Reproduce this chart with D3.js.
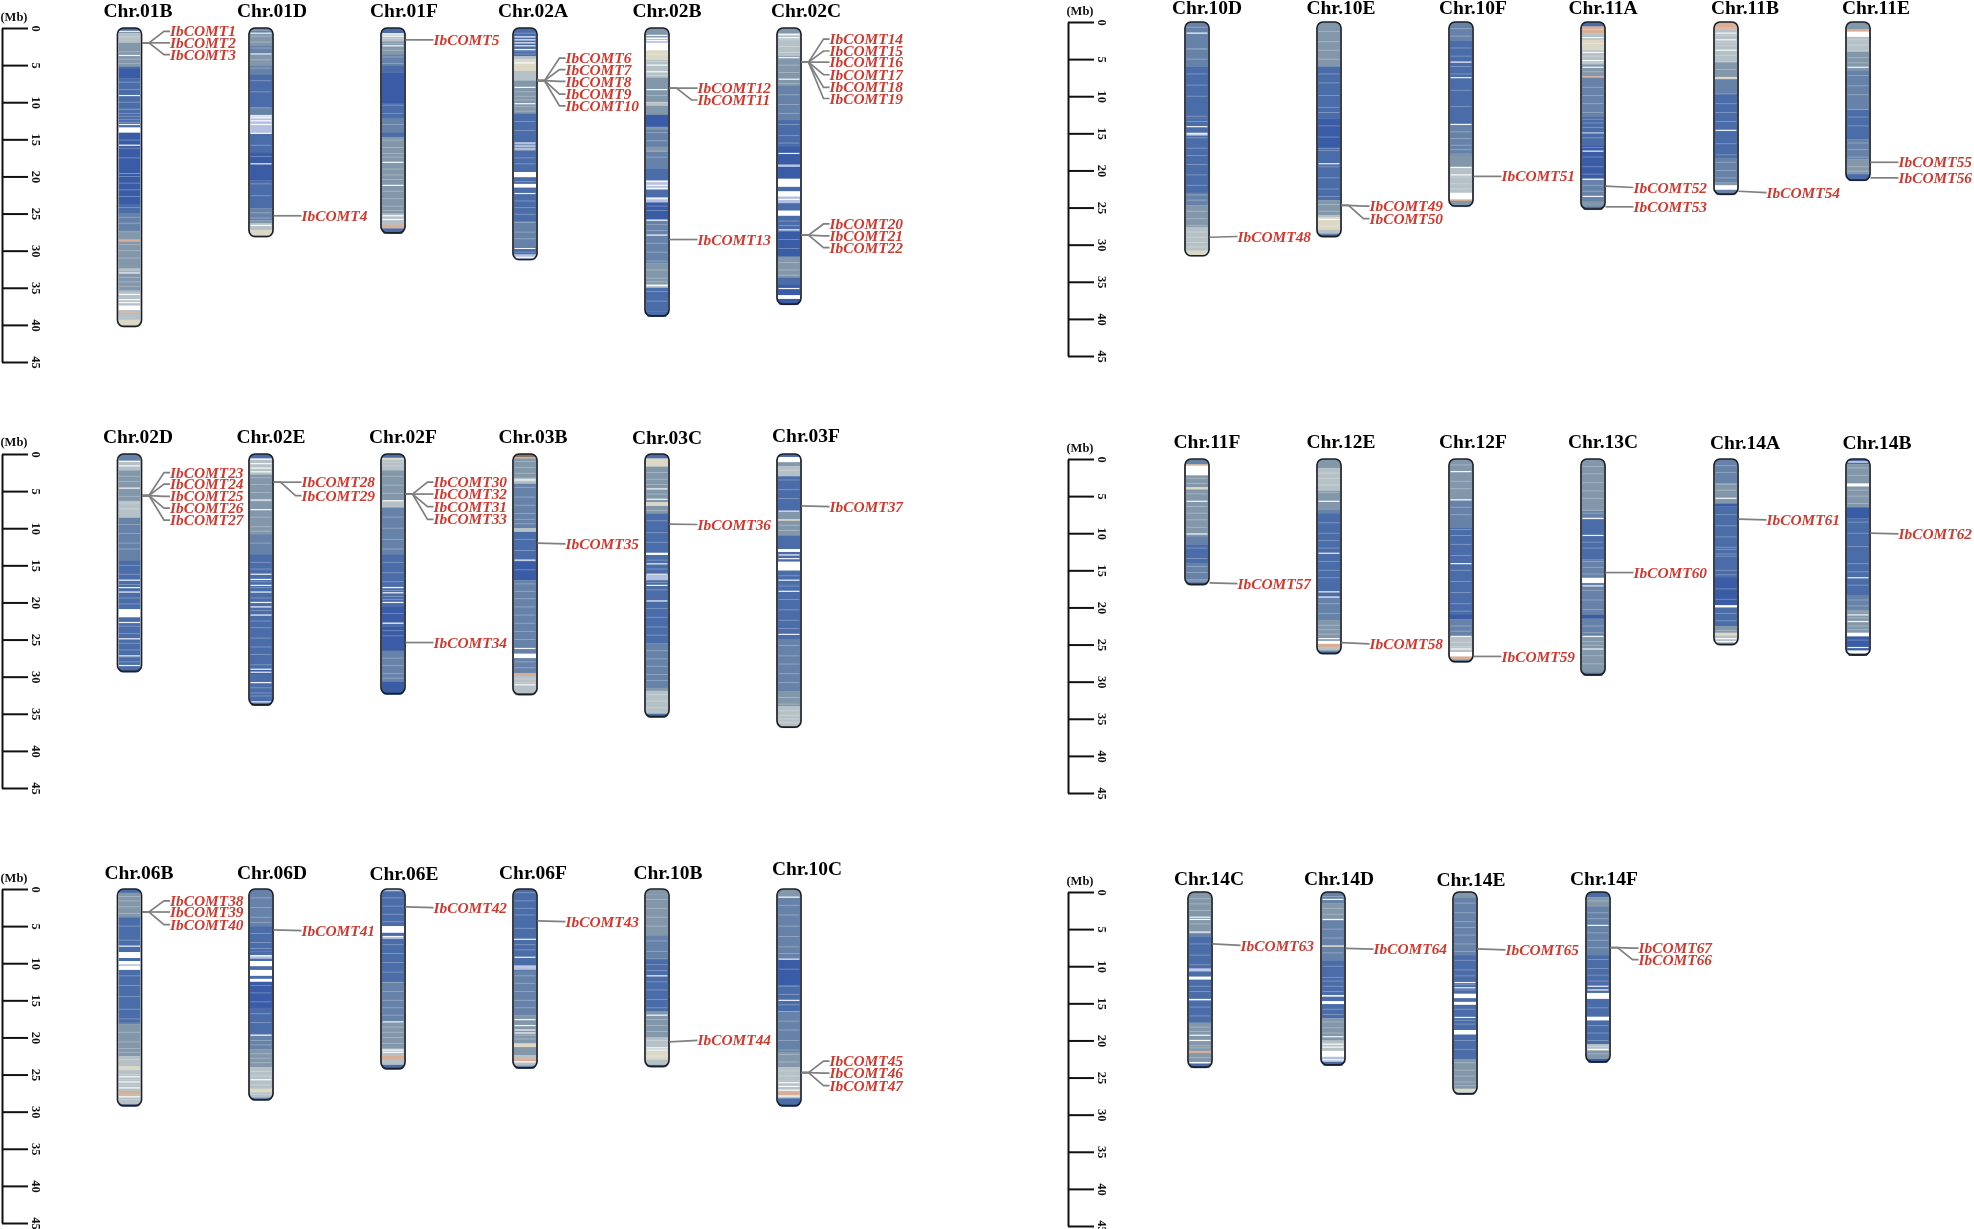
<!DOCTYPE html>
<html><head><meta charset="utf-8">
<script src="https://cdn.jsdelivr.net/npm/d3@7/dist/d3.min.js"></script>
<style>html,body{margin:0;padding:0;background:#fff;overflow:hidden}svg{display:block;filter:blur(.45px)}
text{font-family:"Liberation Serif",serif;font-weight:bold}</style></head><body>
<script>
// ---------- tick labels and level colours ----------
const tickValues=[0,5,10,15,20,25,30,35,40,45];
const levelColours=["#ffffff","#b4c0e2","#3a5ca6","#4a6ca8","#6682a8","#8297aa","#b5c1c6","#dcd8c6","#d9ae96","#8d6f5e"];

// ---------- chromosomes by panel ----------
const chrsA=["01B","01D","01F","02A","02B","02C"];
const lensA=[40.3,28.2,27.7,31.3,38.9,37.3];
const chrsB=["02D","02E","02F","03B","03C","03F"];
const lensB=[29.4,33.9,32.4,32.5,35.5,36.9];
const chrsC=["06B","06D","06E","06F","10B","10C"];
const lensC=[29.3,28.5,24.3,24.2,24,29.3];
const chrsD=["10D","10E","10F","11A","11B","11E"];
const lensD=[31.6,29,24.9,25.3,23.3,21.4];
const chrsE=["11F","12E","12F","13C","14A","14B"];
const lensE=[17,26.3,27.4,29.2,25.1,26.5];
const chrsF=["14C","14D","14E","14F"];
const lensF=[23.7,23.4,27.3,23];

// ---------- genes: name, chromosome, locus (Mb), label level (Mb) ----------
const geneNames=[1,2,3,4,5,6,7,8,9,10,12,11,13,14,15,16,17,18,19,20,21,22,23,24,25,26,27,28,29,30,32,31,33,34,35,36,37,38,39,40,41,42,43,44,45,46,47,48,49,50,51,52,53,54,55,56,57,58,59,60,61,62,63,64,65,67,66];
const geneChrs=["01B","01B","01B","01D","01F","02A","02A","02A","02A","02A","02B","02B","02B","02C","02C","02C","02C","02C","02C","02C","02C","02C","02D","02D","02D","02D","02D","02E","02E","02F","02F","02F","02F","02F","03B","03C","03F","06B","06B","06B","06D","06E","06F","10B","10C","10C","10C","10D","10E","10E","10F","11A","11A","11B","11E","11E","11F","12E","12F","13C","14A","14B","14C","14D","14E","14F","14F"];
const geneLoci=[2,2,2,25.3,1.6,7.1,7.1,7.1,7.1,7.1,8.1,8.1,28.5,4.6,4.6,4.6,4.6,4.6,4.6,27.9,27.9,27.9,5.6,5.6,5.6,5.6,5.6,3.8,3.8,5.4,5.4,5.4,5.4,25.4,12,9.45,7,3.1,3.1,3.1,5.5,2.4,4.3,20.6,24.75,24.75,24.75,29,24.7,24.7,20.8,22.1,24.9,22.8,18.9,21,16.7,24.75,26.6,15.3,8.1,10,7,7.6,7.65,7.5,7.5];
const geneLabelAt=[.45,2,3.6,25.3,1.6,4.05,5.6,7.2,8.9,10.5,8.1,9.7,28.5,1.5,3.1,4.6,6.3,8,9.5,26.4,28,29.6,2.5,4.05,5.7,7.3,8.9,3.8,5.6,3.8,5.4,7.1,8.8,25.4,12.1,9.5,7.1,1.6,3.1,4.8,5.6,2.5,4.4,20.4,23.2,24.8,26.5,28.9,24.8,26.5,20.8,22.3,24.9,23,18.9,21,16.8,24.9,26.6,15.3,8.2,10.1,7.2,7.7,7.8,7.55,9.1];

// ---------- density tracks: flat pairs (start Mb, level); gaps and faint lines in Mb ----------
const bands01B=[0,3,.5,5,.7,6,2,5,3.6,5,5.2,3,5.5,2,6.8,3,9,3,10.8,3,13.4,0,14.1,2,15.7,2,19.6,2,23.7,3,25,4,27.5,5,28.5,8,28.8,5,32.4,6,32.8,5,35.5,6,36.8,6,37.4,0,38,6,38.3,8,38.5,6,39.3,7];
const gaps01B=[.45,3.7,9.1,13,33,35.9,36.6,37,15.8];
const soft01B=[1.2,3.2,4.2,4.8,7.3,8.3,10,11,11.5,11.9,12.3,12.7,15.1,16.2,17.5,19.6,20,20.9,21.8,22.7,24.2,25.5,26.3,27.4,29.2,30,31,33.6,34.2,34.8,35.4];
const bands01D=[0,4,.8,5,2.4,4,3.6,5,5.1,4,6.3,3,10.8,4,11.7,1,14.2,3,16.8,2,20.5,3,24.3,4,25.9,5,26.3,6,27.2,7,27.9,6];
const gaps01D=[.7,3.5,11.85,12.1,12.5,13,14.2,18.3,26.6];
const soft01D=[.3,1.1,1.9,2.7,4.3,5.4,7.1,8.6,10.7,15.8,17.3,21,22.6,24.9,25.6];
const bands01F=[0,3,.7,6,1.8,5,3.6,4,5.1,3,6,2,10.1,3,12.2,4,14.1,3,14.7,5,17.9,5,21.2,5,25,6,26,6,26.5,8,27,3];
const gaps01F=[.8,1.1,2.4,18.1,21.2,25.3,25.8];
const soft01F=[1.4,2.1,3,3.9,4.8,10.4,11.5,13,15.1,16.1,16.9,17.4,19,19.8,20.4,22,23,24,24.6];
const bands02A=[0,3,1.1,3,3.8,6,4.2,7,5.8,6,7.1,5,11.5,3,19.4,0,20.1,3,21,0,21.5,3,23,3,26,4,29.5,3,30.5,1];
const gaps02A=[1.2,1.6,2,2.4,2.9,4.7,8,10.2,15.5,15.9,16.3,22.3,29.7,30.9];
const soft02A=[.7,3.1,3.5,8.6,9.2,9.7,10.6,11.2,12.6,13.8,15.7,16.1,16.5,17.5,18.3,20.7,23.3,24.2,25.1,26.2,27.5,28.4,30.2];
const bands02B=[0,5,1.2,1,2,0,3,7,4.3,6,6.7,5,8.2,5,10,6,10.5,5,11.7,2,13.3,5,13.7,4,16,5,16.6,4,18.9,3,20.5,1,21.8,3,22.8,1,23.5,2,25.8,4,28,4,31.7,5,34.5,6,35,3,38.2,3];
const gaps02B=[1,1.4,1.7,5,5.9,8.3,20.7,21.2,21.6,23,25.9,27.9,34.7];
const soft02B=[3.5,4.5,6.4,9.1,10,14.1,15.2,16.6,17.4,24,24.6,26.5,27.3,29,30.2,31.4,32.6,33.7,34.2,35.5,36.8];
const bands02C=[0,5,.7,6,2,6,3.8,5,7.8,4,12.4,3,16,2,18.4,1,18.7,2,20.3,0,21.4,3,22,0,22.7,1,23.6,3,24.6,0,25.3,3,27.4,2,30.8,5,33.6,3,34.6,2,36,0,36.5,2];
const gaps02C=[.9,1.3,4,6.9,16.9,23.1,27.2,35.1];
const soft02C=[1.6,2.5,3.3,5,6,7.5,9,10.3,11.5,13,14.5,15.5,18.6,26,26.6,28.5,29.7,31.6,32.6,33.3];
const bands02D=[0,4,.9,6,2.2,5,4.7,5,6.3,6,8.6,4,14.4,3,16.8,3,20.9,0,22,3,27.4,3];
const gaps02D=[1,1.6,4.6,17,18,18.6,22.7,24.9,27.2,28.5];
const soft02D=[3,3.7,5.7,6.6,7.4,9.5,10.7,12,12.8,15,16.2,17.6,19.4,20.2,23.2,24.2,25.5,26.4,28];
const bands02E=[0,3,.6,6,2.8,5,6.4,5,10.8,4,13.5,3,29,2,29.6,3];
const gaps02E=[.7,1.3,1.9,2.4,6.2,7.5,16.2,16.9,17.7,18.6,20,20.6,21.7,29,29.4,30.8,33.4];
const soft02E=[3.2,4.1,5.2,8.5,9.8,10.4,12,14.6,15.5,17.2,18,19.4,21.1,22.5,23.4,24.8,26,27,28.4,31.5,32.2,32.6];
const bands02F=[0,3,.5,7,.8,6,2.2,5,6.3,6,7.2,4,13.5,3,17.8,3,20.5,2,22.6,3,23.2,2,26.5,4,30.7,2];
const gaps02F=[6.3,18,18.7,20,22.8];
const soft02F=[1.1,1.6,3,4.2,5.3,8.5,10,11.5,12.8,14.6,16,17.2,18.4,19.2,19.6,21.5,23.8,24.5,27.5,28.5,29.6,30.2];
const bands03B=[0,9,.4,8,.6,5,3.2,6,4,4,10,6,10.5,3,14.5,2,17,4,26.9,0,27.5,4,29.5,8,29.9,6,32.2,5];
const gaps03B=[3.5,14.3,26.2,31.1];
const soft03B=[1,1.8,2.6,4.5,5.8,6.9,8,8.8,9.4,11.5,13,15.6,17.5,18.5,19.5,20.6,21.7,22.8,23.9,25,28,28.8,30.3,30.8];
const bands03C=[0,3,.6,7,1.7,5,6.5,7,7,5,8,3,13.3,0,13.6,3,16.3,1,17,3,25.5,4,31.5,5,31.9,6,35,3];
const gaps03C=[4.7,6.1,14.8,16.2,17.7,19.8];
const soft03C=[2.5,3.4,4.1,5.4,7.6,9,10.6,11.9,14.3,15.5,17.3,18.3,20.8,22,23.3,24.4,26.5,27.6,28.6,29.7,30.5,32.4,33.3,34.2];
const bands03F=[0,3,.4,0,1.1,5,1.6,6,3,3,7.8,5,8.8,7,9,5,11,3,12.8,0,13.2,3,14.5,0,15.7,3,17.6,3,24.3,3,25,4,32,5,34,6];
const gaps03F=[7.7,13.6,14.1,17,18.5,24.3];
const soft03F=[2.2,3.5,4.8,6,9.6,10.3,16.4,17.8,19.6,21,22.4,23.5,25.8,27.2,28.3,29.6,30.8,32.8,33.7,34.6,35.2,35.7,36.2];
const bands06B=[0,3,.5,5,3.7,4,3.9,3,7,3,8.5,0,9.3,3,9.7,0,10.2,3,10.3,0,10.9,3,18,4,18.2,5,22.5,6,23.9,7,24.4,6,27.2,8,27.7,6,29,4];
const gaps06B=[7.7,25.3,26,26.8,28];
const soft06B=[1,1.6,2.4,3.3,5,6.9,11.7,13,14.5,16.2,17.5,19.3,20.6,21.5,22,23,25,25.7,26.4,28.4];
const bands06D=[0,4,5,3,8.4,3,8.9,1,9.4,3,9.7,0,10.4,3,10.9,0,11.7,3,12.1,0,12.5,2,16,3,19.5,4,21.6,5,24,6,26.9,7,27.4,6,28.1,4];
const gaps06D=[9,19.7,25.7];
const soft06D=[1.2,2.5,3.8,4.5,6,7.2,8,13,14,15.2,16.8,18,20.4,21,22.2,22.8,23.4,24.6,25.2,26.4,27.7];
const bands06E=[0,1,.3,3,5,0,5.9,3,11,3,12.5,4,18,5,21.5,6,22.4,8,23,6,23.7,3];
const gaps06E=[6.4,6.6,17.9,21.7,22];
const soft06E=[1.2,2.3,3.4,4.4,7.5,8.7,9.9,11.2,12.6,13.8,15,16,17,18.6,19.3,20,20.8];
const bands06F=[0,3,6.7,0,6.85,3,9,3,10.3,1,10.9,3,11,4,17,5,20.8,7,21.3,5,22.4,6,22.8,8,23.2,6,23.8,4];
const gaps06F=[9.2,17.6,18.4,19,19.4,23.3];
const soft06F=[.5,1.6,2.6,3.5,5.3,7.5,8.2,10.5,11.7,12.7,13.8,15,16,19.7,20.2];
const bands10B=[0,5,.7,5,6.3,4,9.4,3,16.5,5,20,6,21.8,7,23,6,23.7,4];
const gaps10B=[11.7,17,21.4,21.7];
const soft10B=[1.4,2.6,3.8,5,7,8.4,9.4,10.2,11,12.5,13.6,14.9,16,17.6,18.4,19.2,20.4,22.5];
const bands10C=[0,5,1.2,4,9.4,2,13,3,16.5,4,22,5,24,6,25.8,6,27.3,8,27.8,6,28.2,3];
const gaps10C=[1.1,9.45,15,26.1,26.6,27.1,27.9];
const soft10C=[2.2,3.5,5,6.4,7.8,8.7,10.8,13.1,14.2,15.6,16.5,17.8,19,20.4,21.7,22.3,23.3,24.5,25.2];
const bands10D=[0,4,3.7,4,6,3,13,3,23,4,24.7,5,27.6,6,30.8,7];
const gaps10D=[1.5,14.1,15,15.2];
const soft10D=[.7,3.6,5,7,8.5,10,12.7,13.4,15.6,17,18,19.2,20.6,22,23.3,24,25.5,26.5,27.4,28.3,29,29.7,30.3];
const bands10E=[0,5,2.7,5,6,3,13,2,17,3,24,5,26,6,26.3,7,28,6,28.5,4];
const gaps10E=[19.1,26.6];
const soft10E=[1.3,2.65,3.8,5,7,8.2,9.9,11.5,12.2,14,15.5,17,17.3,19.5,21,22.5,23.5,24.6,25.5,27.5];
const bands10F=[0,4,2.5,3,13.7,4,18,5,19.5,6,23,0,23.9,8,24.1,5];
const gaps10F=[5.4,7.5,13.8,19.6,20.6];
const soft10F=[.9,1.9,3.5,4.6,6,7,9.2,11.4,14.8,15.7,16.6,17.2,17.8,20.9,21.8,22.5];
const bands11A=[0,3,.6,8,1.5,6,2.4,7,3.8,6,5.7,5,7.3,8,7.5,4,12.8,3,14.9,0,15,3,16.7,2,21,4,24.2,5,24.9,3];
const gaps11A=[2.1,4.1,5.2,6.1,17.4,21.2,23.5];
const soft11A=[1,2.9,4.6,5.5,6.7,8.8,9.9,11,12.2,13.1,13.6,14.2,15.6,16.9,18.2,19.5,20.5,22,22.8];
const bands11B=[0,8,1,6,5.4,5,7.4,7,7.7,4,9.7,3,18.3,4,21.6,5,22,0,22.6,4];
const gaps11B=[1.5,2.4,3.8,14.6];
const soft11B=[.8,1.8,2.8,3.2,4.5,5.4,6.4,9.7,11,12.2,13.4,16.4,17.9,18.9,20,21];
const bands11E=[0,5,1,8,1.3,0,2,6,4,5,6.5,4,11.8,3,15.8,4,18.5,5,20.5,3];
const gaps11E=[6.1];
const soft11E=[2.4,3.1,3.9,4.8,5.5,7.2,8.6,9.8,11.8,12.8,14,16.3,17.2,18.2,19.5,20.1];
const bands11F=[0,4,.7,8,.9,0,2.2,5,3.8,7,4.1,5,10.4,4,11.5,3,14,4,16.2,5,16.6,3];
const gaps11F=[1.4,5.7,10.1];
const soft11F=[2.6,3.3,4.7,6.4,7.3,8.2,9.2,12,13.4,14.5,15.3];
const bands12E=[0,5,1.2,6,4.3,5,6.8,4,7.3,3,17.9,3,18.6,4,21.7,5,24.5,0,24.9,8,25.4,6,25.8,4];
const gaps12E=[5.7,12.7,17.9,18.6,24.2];
const soft12E=[1.9,2.6,3.5,4.5,8.6,10,11,12,13.8,15,16,19.5,20.8,22.4,23,23.6];
const bands12F=[0,5,2,5,5.6,4,9.2,3,21,2,21.6,4,24,6,26,0,26.6,8,27,5];
const gaps12F=[1.7,5.5,14.1,23.9,25.6];
const soft12F=[.8,3,4,6.5,7.5,9.5,10.3,11.5,13,15,16.5,18,19.5,20.5,22.5,23.2,24.7,25.3];
const bands13C=[0,5,7,4,8.2,3,13.5,4,16,0,16.7,4,21,2,21.5,4,24,5,28.8,3];
const gaps13C=[8,10.3,17.1,23.9,25.6];
const soft13C=[1,2,3.2,4.3,5.3,6.9,7.3,11.2,12,13.8,14.6,15.5,17.7,19,20.3,22.5,23.4,24.6,25.1,26.5,27.6];
const bands14A=[0,4,3.3,5,6,2,6.4,3,16,2,19.7,0,20,3,22.5,5,23.4,7,23.8,6,24.8,5];
const gaps14A=[5.3,24.2,24.6];
const soft14A=[.9,1.8,3.4,4.2,7.5,9,10.5,11.9,12.2,12.8,13.1,15,15.6,17.5,18.9,20.8,21.8,23.1];
const bands14B=[0,3,.7,5,3.3,0,3.7,5,6.5,2,8,3,14,3,18.4,4,20.3,5,23.4,0,23.9,2,25.8,0,26.2,2];
const gaps14B=[.4,16,21,21.9,25.4];
const soft14B=[1.2,2.2,4.2,5,6,8.5,10,11.8,14.1,15.2,17,19,19.8,20.6,21.4,22.5,23,24.4];
const bands14C=[0,5,5.6,4,6,3,10.3,1,10.7,3,11.4,0,11.8,3,14.4,0,14.6,3,17.6,5,21.4,8,21.7,5,22.9,0,23.1,3];
const gaps14C=[3.4,3.7,5.4,20,19.3];
const soft14C=[.9,1.6,2.5,4.3,7,8.5,9.8,10.5,12.7,13.4,15.5,16.7,18.2,18.8,20.7,21,22.3];
const bands14D=[0,4,1.5,5,3.8,4,7.2,7,7.4,4,9.2,3,13.9,0,14.1,3,14.7,0,15.1,3,17,5,20,6,21.4,0,22.2,1,22.9,3];
const gaps14D=[1,3.7,19.5,20.5,20.9,22.6];
const soft14D=[.6,2.2,3,5,6.2,8.2,10,11.5,12,12.7,13.4,15.8,16.5,17.5,18.3,19];
const bands14E=[0,5,.8,4,8.5,3,13.7,0,14.3,3,14.8,0,15.2,3,18.6,0,19.2,3,22.5,5,26.5,7,27,5];
const gaps14E=[12.2,12.9,16.9];
const soft14E=[1.5,2.8,4,4.8,5.8,7,8,9.2,10.5,11.3,12.5,13.2,15.8,17.3,17.8,20,21.2,23,24,24.8,25.6,26.1];
const bands14F=[0,3,.7,5,2,4,8.5,3,13.6,0,14.4,3,16.8,0,17.3,3,20.5,6,21.4,5,22.5,2];
const gaps14F=[4.5,12.7,13.2,21.2];
const soft14F=[1.2,2.8,3.6,5.5,6.5,7.5,9.1,10.3,11.2,12,15.6,18,19,20,20.8,21.8];

const bandsOf={"01B":bands01B,"01D":bands01D,"01F":bands01F,"02A":bands02A,"02B":bands02B,"02C":bands02C,"02D":bands02D,"02E":bands02E,"02F":bands02F,"03B":bands03B,"03C":bands03C,"03F":bands03F,"06B":bands06B,"06D":bands06D,"06E":bands06E,"06F":bands06F,"10B":bands10B,"10C":bands10C,"10D":bands10D,"10E":bands10E,"10F":bands10F,"11A":bands11A,"11B":bands11B,"11E":bands11E,"11F":bands11F,"12E":bands12E,"12F":bands12F,"13C":bands13C,"14A":bands14A,"14B":bands14B,"14C":bands14C,"14D":bands14D,"14E":bands14E,"14F":bands14F};
const gapsOf={"01B":gaps01B,"01D":gaps01D,"01F":gaps01F,"02A":gaps02A,"02B":gaps02B,"02C":gaps02C,"02D":gaps02D,"02E":gaps02E,"02F":gaps02F,"03B":gaps03B,"03C":gaps03C,"03F":gaps03F,"06B":gaps06B,"06D":gaps06D,"06E":gaps06E,"06F":gaps06F,"10B":gaps10B,"10C":gaps10C,"10D":gaps10D,"10E":gaps10E,"10F":gaps10F,"11A":gaps11A,"11B":gaps11B,"11E":gaps11E,"11F":gaps11F,"12E":gaps12E,"12F":gaps12F,"13C":gaps13C,"14A":gaps14A,"14B":gaps14B,"14C":gaps14C,"14D":gaps14D,"14E":gaps14E,"14F":gaps14F};
const softOf={"01B":soft01B,"01D":soft01D,"01F":soft01F,"02A":soft02A,"02B":soft02B,"02C":soft02C,"02D":soft02D,"02E":soft02E,"02F":soft02F,"03B":soft03B,"03C":soft03C,"03F":soft03F,"06B":soft06B,"06D":soft06D,"06E":soft06E,"06F":soft06F,"10B":soft10B,"10C":soft10C,"10D":soft10D,"10E":soft10E,"10F":soft10F,"11A":soft11A,"11B":soft11B,"11E":soft11E,"11F":soft11F,"12E":soft12E,"12F":soft12F,"13C":soft13C,"14A":soft14A,"14B":soft14B,"14C":soft14C,"14D":soft14D,"14E":soft14E,"14F":soft14F};

// ---------- layout (page pixels) ----------
const W=1974,H=1229,tubeW=25,plotH=334;
const leftCentres=[129.5,261,393,525,657,789], rightCentres=[1197,1329,1461,1593,1726,1858], lastCentres=[1200,1333,1465,1598];
const panels=[
 {chrs:chrsA,lens:lensA,axisX:2,y0:28,cx:leftCentres,mbY:21,tx:[138,272,404,533,667,806],ty:[17,17,17,17,17,17]},
 {chrs:chrsB,lens:lensB,axisX:2,y0:454,cx:leftCentres,mbY:446,tx:[138,271,403,533,667,806],ty:[443,443,443,443,444,442]},
 {chrs:chrsC,lens:lensC,axisX:2,y0:889,cx:leftCentres,mbY:882,tx:[139,272,404,533,668,807],ty:[879,879,880,879,879,875]},
 {chrs:chrsD,lens:lensD,axisX:1068,y0:22,cx:rightCentres,mbY:15,tx:[1207,1341,1473,1603,1745,1876],ty:[14,14,14,14,14,14]},
 {chrs:chrsE,lens:lensE,axisX:1068,y0:459,cx:rightCentres,mbY:452,tx:[1207,1341,1473,1603,1745,1877],ty:[448,448,448,448,449,449]},
 {chrs:chrsF,lens:lensF,axisX:1068,y0:892,cx:lastCentres,mbY:885,tx:[1209,1339,1471,1604],ty:[885,885,886,885]}
];

const svg=d3.select("body").append("svg").attr("width",W).attr("height",H).attr("viewBox",[0,0,W,H]);
const colour=d3.scaleOrdinal(d3.range(levelColours.length),levelColours);
const nameCount=d3.rollup(geneLoci.map((l,i)=>geneChrs[i]+"|"+l),v=>v.length,d=>d);
const genes=geneNames.map((n,i)=>({name:"IbCOMT"+n,chr:geneChrs[i],locus:geneLoci[i],label:geneLabelAt[i]}));

panels.forEach(p=>{
  const y=d3.scaleLinear().domain([0,45]).range([p.y0,p.y0+plotH]);
  const g=svg.append("g");
  const ax=g.append("g").attr("transform",`translate(${p.axisX},0)`)
    .call(d3.axisRight(y).tickValues(tickValues).tickSize(26).tickSizeOuter(0));
  ax.select(".domain").attr("stroke","#111").attr("stroke-width",2);
  ax.selectAll(".tick line").attr("stroke","#111").attr("stroke-width",2);
  ax.selectAll(".tick text").attr("x",0).attr("dy",0).attr("text-anchor","middle")
    .attr("dominant-baseline","central").attr("fill","#111")
    .attr("transform","translate(34,0) rotate(90)").style("font-size","12.5px");
  g.append("text").attr("x",p.axisX+12).attr("y",p.mbY).attr("text-anchor","middle")
    .style("font-size","12.5px").attr("fill","#111").text("(Mb)");

  p.chrs.forEach((chr,i)=>{
    const cx=p.cx[i],len=p.lens[i],x0=cx-tubeW/2;
    const id="clip"+chr;
    const tube=g.append("g");
    tube.append("clipPath").attr("id",id).append("rect").attr("x",x0+1.5).attr("width",tubeW-3)
      .attr("y",y(0)-.5).attr("height",y(len)-y(0)+1.5).attr("rx",5);
    const flat=bandsOf[chr], bands=[];
    for(let k=0;k<flat.length;k+=2) bands.push({s:flat[k],l:flat[k+1],e:k+2<flat.length?flat[k+2]:len});
    const c=tube.append("g").attr("clip-path",`url(#${id})`);
    c.selectAll("rect.band").data(bands).join("rect").attr("class","band")
      .attr("x",x0+1.5).attr("width",tubeW-3).attr("y",d=>y(d.s)).attr("height",d=>Math.max(.5,y(d.e)-y(d.s)+.3))
      .attr("fill",d=>colour(d.l));
    c.selectAll("rect.soft").data(softOf[chr]).join("rect").attr("class","soft")
      .attr("x",x0+2).attr("width",tubeW-4).attr("y",d=>y(d)-.45).attr("height",.9)
      .attr("fill","#fff").attr("opacity",.3);
    c.selectAll("rect.gap").data(gapsOf[chr]).join("rect").attr("class","gap")
      .attr("x",x0+2).attr("width",tubeW-4).attr("y",d=>y(d)-.6).attr("height",1.2)
      .attr("fill","#fff").attr("opacity",.92);
    tube.append("rect").attr("x",x0+.5).attr("width",tubeW-1).attr("y",y(0))
      .attr("height",Math.max(0,y(len)-y(0)-.8)).attr("rx",6)
      .attr("fill","none").attr("stroke","#1b1f26").attr("stroke-width",1.7);
    g.append("text").attr("x",p.tx[i]).attr("y",p.ty[i]).attr("text-anchor","middle")
      .style("font-size","19.5px").attr("fill","#000").text("Chr."+chr);

    const here=genes.filter(d=>d.chr===chr);
    const edge=x0+tubeW, labelX=cx+40.5;
    const line=d3.line();
    here.forEach(d=>{
      const fan=nameCount.get(chr+"|"+d.locus)>1;
      const pts=fan?[[edge,y(d.locus)],[edge+7,y(d.locus)],[labelX-6,y(d.label)],[labelX,y(d.label)]]
                   :[[edge,y(d.locus)],[labelX,y(d.label)]];
      g.append("path").attr("d",line(pts)).attr("fill","none").attr("stroke","#7f7f7f").attr("stroke-width",1.7);
    });
    g.selectAll(null).data(here).join("text").attr("x",labelX).attr("y",d=>y(d.label)).attr("dy",".33em")
      .style("font-size","15.4px").style("font-style","italic").attr("fill","#cf3a30").text(d=>d.name);
  });
});
</script></body></html>
